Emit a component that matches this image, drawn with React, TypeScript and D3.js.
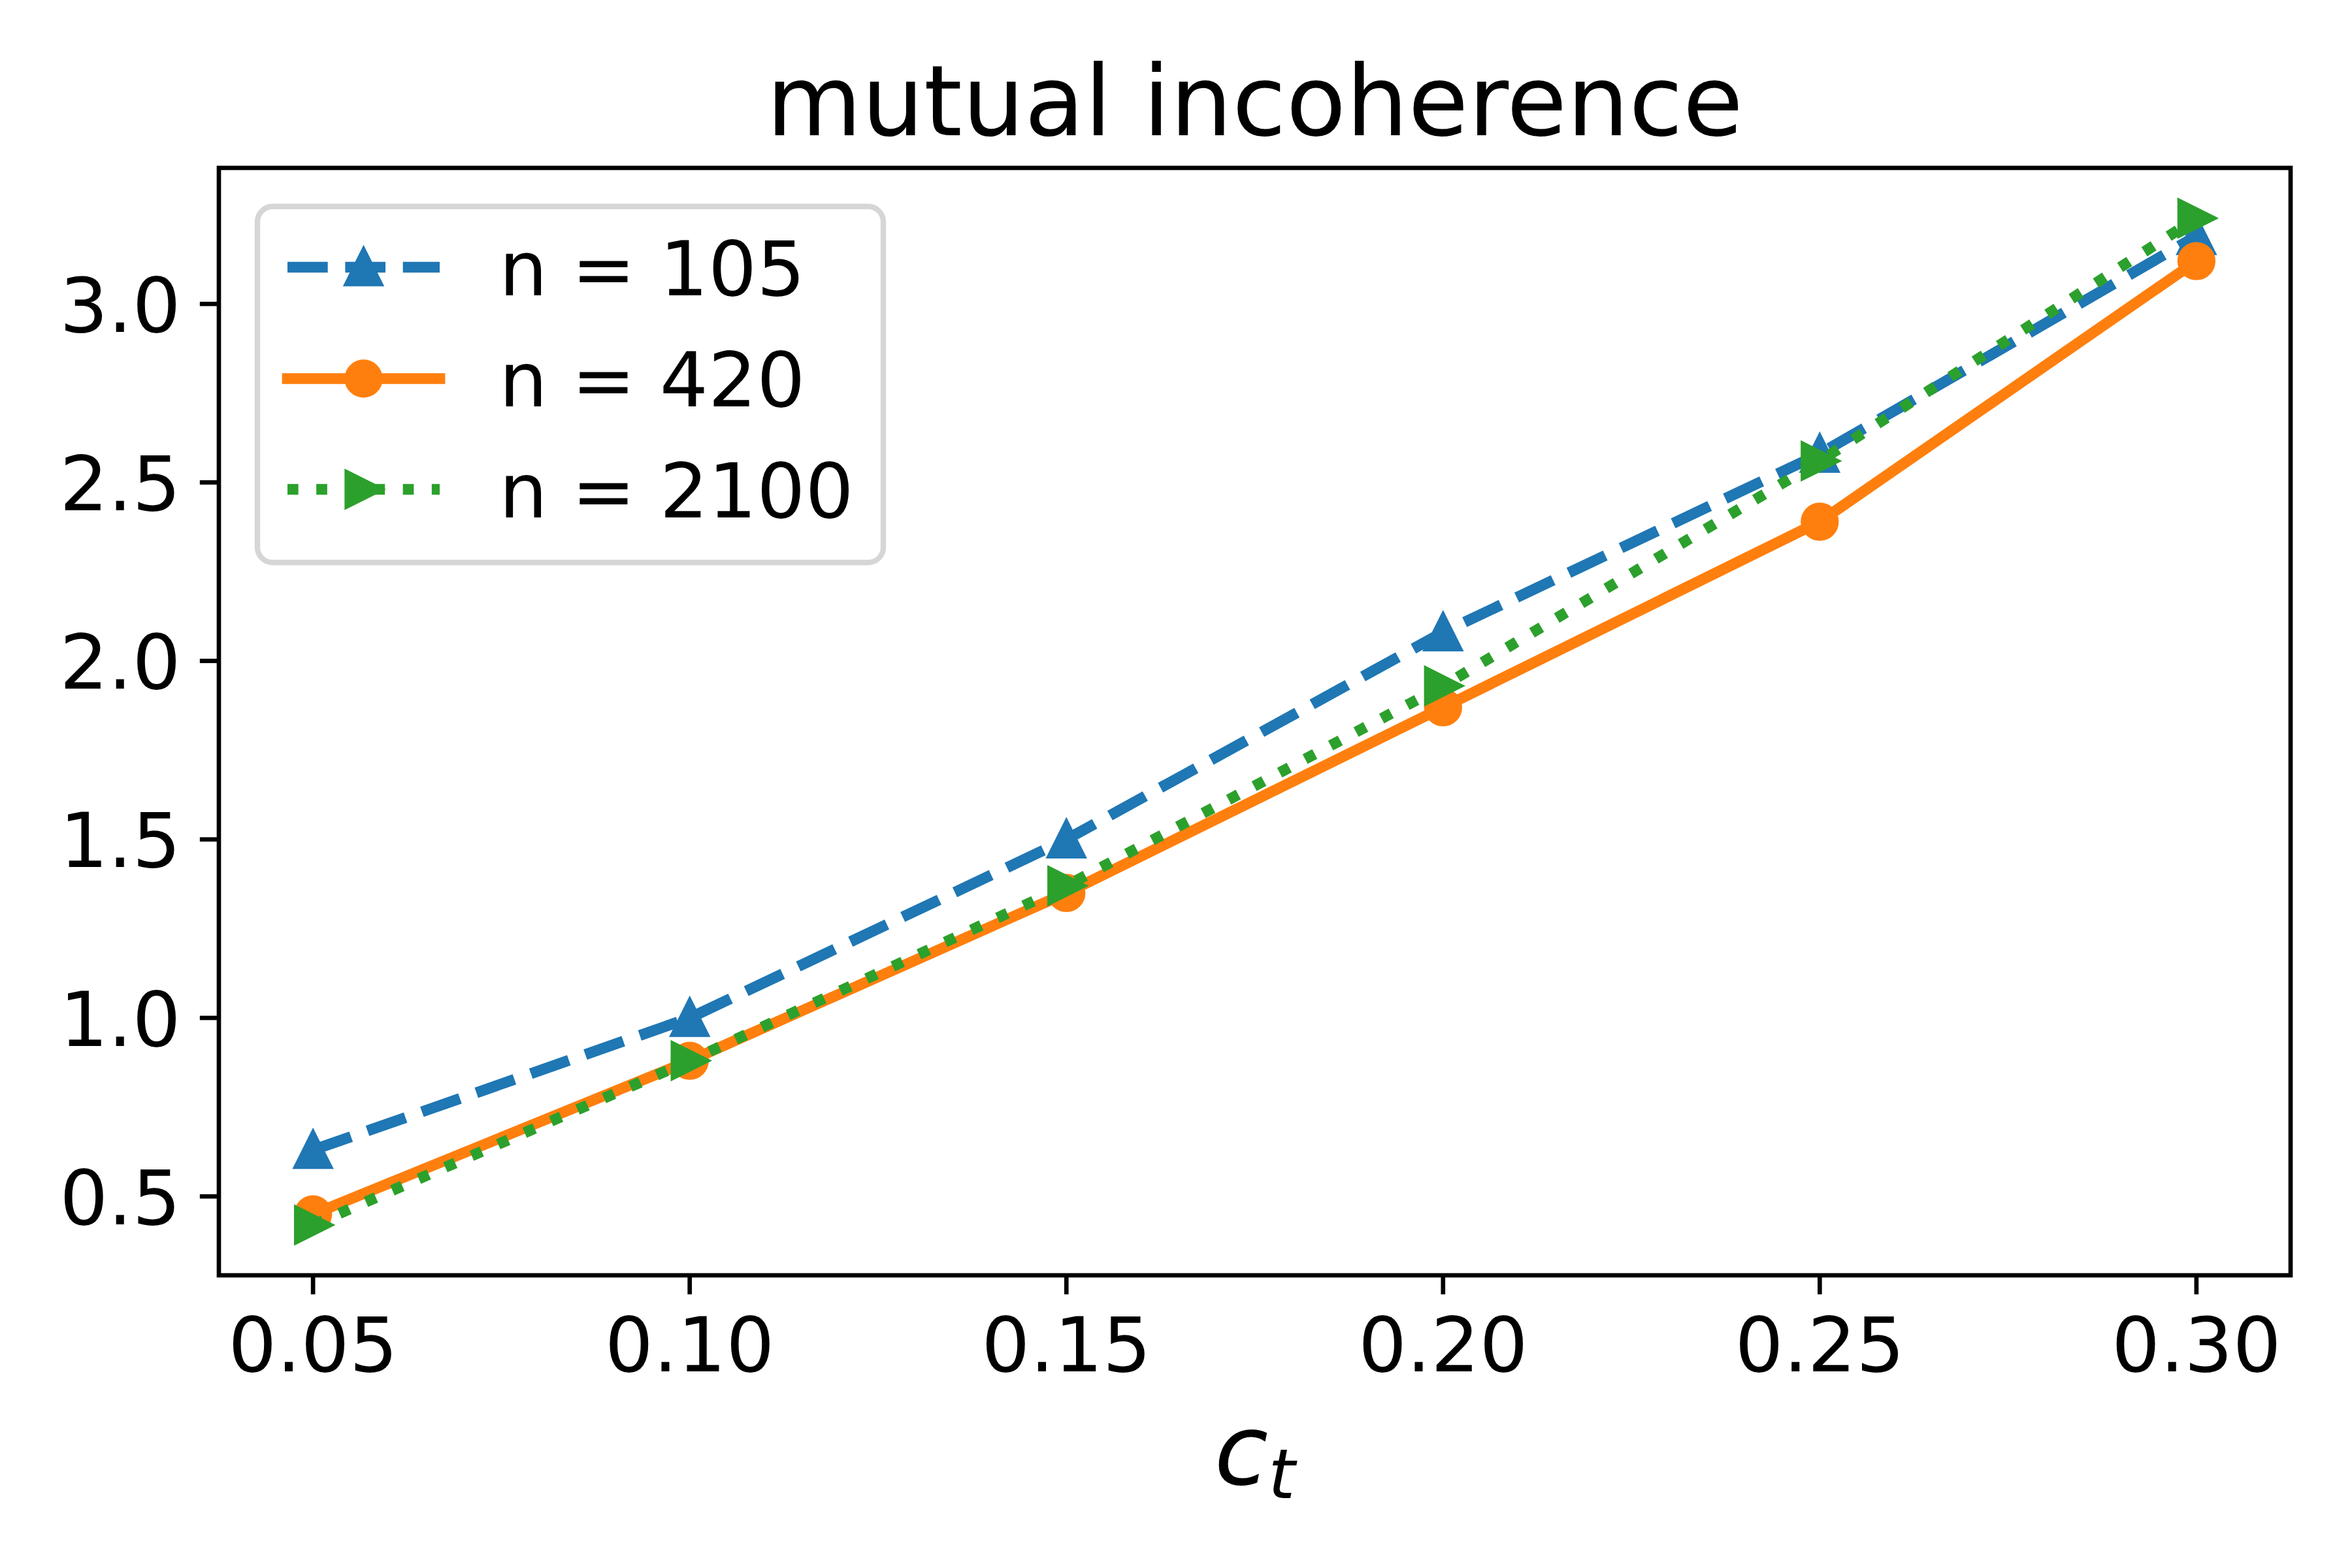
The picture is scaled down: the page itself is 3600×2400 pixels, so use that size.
import React from 'react'
import * as d3 from 'd3'

// values
const cValues = [0.05, 0.1, 0.15, 0.2, 0.25, 0.3]
const n105 = [0.63, 1.0, 1.5, 2.08, 2.58, 3.19]
const n420 = [0.45, 0.88, 1.35, 1.87, 2.39, 3.12]
const n2100 = [0.42, 0.88, 1.37, 1.93, 2.56, 3.24]
const seriesLabels = ['n = 105', 'n = 420', 'n = 2100']
const xTicks = [0.05, 0.1, 0.15, 0.2, 0.25, 0.3]
const yTicks = [0.5, 1.0, 1.5, 2.0, 2.5, 3.0]

const W = 3600
const H = 2400
const PT = 600 / 72
const LW = 2 * PT
const FONT = "'DejaVu Sans', sans-serif"

const box = { left: 335, right: 3506, top: 257, bottom: 1952 }

type Marker = 'triUp' | 'circle' | 'triRight'

const series = [
  { label: seriesLabels[0], values: n105, color: '#1f77b4', dash: `${3.7 * LW} ${1.6 * LW}`, cap: 'butt', marker: 'triUp' as Marker },
  { label: seriesLabels[1], values: n420, color: '#ff7f0e', dash: 'none', cap: 'square', marker: 'circle' as Marker },
  { label: seriesLabels[2], values: n2100, color: '#2ca02c', dash: `${1 * LW} ${1.65 * LW}`, cap: 'butt', marker: 'triRight' as Marker },
]

function MarkerShape({ kind, x, y, color }: { kind: Marker; x: number; y: number; color: string }) {
  const h = 3 * PT // half of 6pt markersize
  const common = { fill: color, stroke: color, strokeWidth: PT, strokeLinejoin: 'miter' as const }
  if (kind === 'circle') return <circle cx={x} cy={y} r={h} {...common} />
  const d = kind === 'triUp'
    ? `M${x},${y - h}L${x - h},${y + h}L${x + h},${y + h}Z`
    : `M${x + h},${y}L${x - h},${y - h}L${x - h},${y + h}Z`
  return <path d={d} {...common} />
}

export default function App() {
  const all = [...n105, ...n420, ...n2100]
  const [lo, hi] = d3.extent(all) as [number, number]
  const padY = (hi - lo) * 0.05
  const [xlo, xhi] = d3.extent(cValues) as [number, number]
  const padX = (xhi - xlo) * 0.05

  const x = d3.scaleLinear().domain([xlo - padX, xhi + padX]).range([box.left, box.right])
  const y = d3.scaleLinear().domain([lo - padY, hi + padY]).range([box.bottom, box.top])

  const line = d3.line<number>()
    .x((_, i) => x(cValues[i]))
    .y(d => y(d))

  const tickLen = 3.5 * PT
  const tickPad = 3.5 * PT
  const fs = 14 * PT

  // legend geometry
  const lg = { left: 394, top: 316, right: 1352, bottom: 861 }
  const rowY = [409, 579.5, 749]
  const handleX0 = 440
  const handleX1 = 673
  const textX = 764

  return (
    <div style={{ position: 'absolute', left: 0, top: 0 }}>
      <svg width={W} height={H} viewBox={`0 0 ${W} ${H}`} style={{ display: 'block', fontFamily: FONT }}>
        <rect x={0} y={0} width={W} height={H} fill="#ffffff" />

        {/* title */}
        <text x={(box.left + box.right) / 2} y={207} textAnchor="middle" fontSize={18 * PT} fill="#000">
          mutual incoherence
        </text>

        <defs>
          <clipPath id="plot-clip">
            <rect x={box.left} y={box.top} width={box.right - box.left} height={box.bottom - box.top} />
          </clipPath>
        </defs>

        {/* series: line then markers, in draw order */}
        {series.map(s => (
          <g key={s.label}>
            <path
              d={line(s.values) || ''}
              fill="none"
              stroke={s.color}
              strokeWidth={LW}
              strokeDasharray={s.dash}
              strokeLinecap={s.cap as any}
              strokeLinejoin="round"
              clipPath="url(#plot-clip)"
            />
            {s.values.map((v, i) => (
              <MarkerShape key={i} kind={s.marker} x={x(cValues[i])} y={y(v)} color={s.color} />
            ))}
          </g>
        ))}

        {/* spines */}
        <rect
          x={box.left}
          y={box.top}
          width={box.right - box.left}
          height={box.bottom - box.top}
          fill="none"
          stroke="#000"
          strokeWidth={0.8 * PT}
          strokeLinejoin="miter"
        />

        {/* x axis */}
        {xTicks.map(t => (
          <g key={`x${t}`}>
            <line x1={x(t)} x2={x(t)} y1={box.bottom} y2={box.bottom + tickLen} stroke="#000" strokeWidth={0.8 * PT} />
            <text x={x(t)} y={2099} textAnchor="middle" fontSize={fs} fill="#000">
              {d3.format('.2f')(t)}
            </text>
          </g>
        ))}

        {/* y axis */}
        {yTicks.map(t => (
          <g key={`y${t}`}>
            <line x1={box.left - tickLen} x2={box.left} y1={y(t)} y2={y(t)} stroke="#000" strokeWidth={0.8 * PT} />
            <text x={box.left - tickLen - tickPad} y={y(t)} dy="0.365em" textAnchor="end" fontSize={fs} fill="#000">
              {d3.format('.1f')(t)}
            </text>
          </g>
        ))}

        {/* x label: c_t */}
        <text x={(box.left + box.right) / 2} y={2272} textAnchor="middle" fontSize={18 * PT} fill="#000" fontStyle="italic">
          <tspan>c</tspan>
          <tspan fontSize={18 * PT * 0.7} dy={21}>t</tspan>
        </text>

        {/* legend */}
        <rect
          x={lg.left}
          y={lg.top}
          width={lg.right - lg.left}
          height={lg.bottom - lg.top}
          rx={0.2 * fs}
          ry={0.2 * fs}
          fill="#ffffff"
          fillOpacity={0.8}
          stroke="#d6d6d6"
          strokeWidth={PT}
        />
        {series.map((s, i) => (
          <g key={`lg${s.label}`}>
            <line
              x1={handleX0}
              x2={handleX1}
              y1={rowY[i]}
              y2={rowY[i]}
              stroke={s.color}
              strokeWidth={LW}
              strokeDasharray={s.dash}
              strokeLinecap={s.cap as any}
            />
            <MarkerShape kind={s.marker} x={(handleX0 + handleX1) / 2} y={rowY[i]} color={s.color} />
            <text x={textX} y={rowY[i]} dy="0.365em" fontSize={fs} fill="#000">
              {s.label}
            </text>
          </g>
        ))}
      </svg>
    </div>
  )
}
